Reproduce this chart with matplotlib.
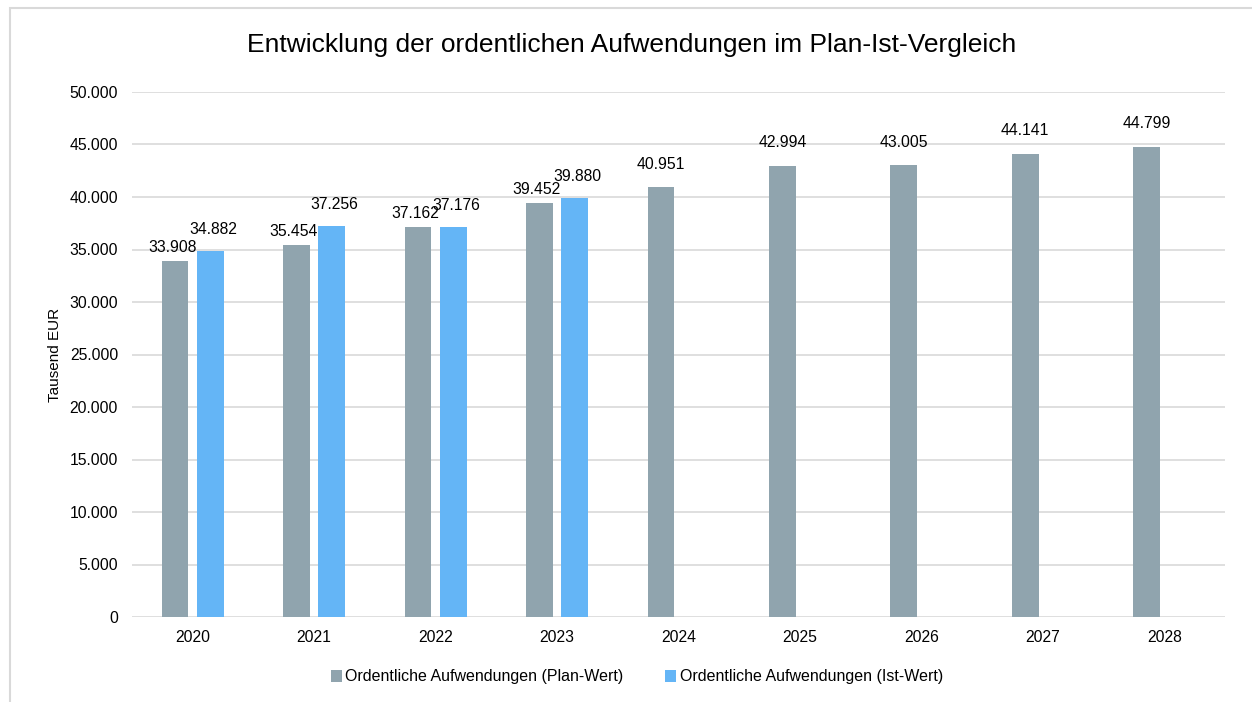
import numpy as np
import matplotlib.pyplot as plt
from matplotlib.patches import Rectangle
from matplotlib.ticker import FuncFormatter

plt.rcParams["font.family"] = ["Liberation Sans", "DejaVu Sans"]

# ---------- data ----------
years = ["2020", "2021", "2022", "2023", "2024", "2025", "2026", "2027", "2028"]
plan = [33908, 35454, 37162, 39452, 40951, 42994, 43005, 44141, 44799]
ist = [34882, 37256, 37176, 39880]

PLAN_COLOR = "#90A4AE"
IST_COLOR = "#64B5F6"
GRID_COLOR = "#D9D9D9"


def de_fmt(v):
    return f"{v:,.0f}".replace(",", ".")


fig = plt.figure(figsize=(12.52, 7.02), dpi=100)

# light outer frame (like the Excel chart border)
fig.patches.append(Rectangle((10 / 1252, -0.05), 1.2, 1 - 8 / 702 + 0.05,
                             transform=fig.transFigure, fill=False,
                             edgecolor=GRID_COLOR, linewidth=1.5))

ax = fig.add_axes([132 / 1252, 1 - 617 / 702, (1225 - 132) / 1252, (617 - 92) / 702])

x = np.arange(len(years))
w = 0.22
off = 0.145

ax.bar(x - off, plan, width=w, color=PLAN_COLOR, label="Ordentliche Aufwendungen (Plan-Wert)", zorder=3)
xi = np.arange(len(ist))
ax.bar(xi + off, ist, width=w, color=IST_COLOR, label="Ordentliche Aufwendungen (Ist-Wert)", zorder=3)

# value labels
for i, v in enumerate(plan):
    gap = 4 if i < len(ist) else 11
    ax.annotate(de_fmt(v), (x[i] - off, v), textcoords="offset points",
                xytext=(-2 if i < len(ist) else 0, gap), ha="center", va="bottom", fontsize=11.3)
for i, v in enumerate(ist):
    ax.annotate(de_fmt(v), (xi[i] + off, v), textcoords="offset points",
                xytext=(2, 10), ha="center", va="bottom", fontsize=11.3)

ax.set_xlim(-0.5, len(years) - 0.5)
ax.set_ylim(0, 50000)
ax.set_yticks(np.arange(0, 50001, 5000))
ax.yaxis.set_major_formatter(FuncFormatter(lambda v, p: de_fmt(v)))
ax.set_xticks(x)
ax.set_xticklabels(years)
ax.tick_params(axis="both", length=0, labelsize=11.3)
ax.tick_params(axis="y", pad=10)
ax.tick_params(axis="x", pad=9)

ax.yaxis.grid(True, color=GRID_COLOR, linewidth=1.2, zorder=0)
ax.set_axisbelow(True)
for s in ax.spines.values():
    s.set_visible(False)

fig.text(55 / 1252, 1 - 355 / 702, "Tausend EUR", rotation=90, ha="center", va="center", fontsize=11)
fig.text(632 / 1252, 1 - 45 / 702, "Entwicklung der ordentlichen Aufwendungen im Plan-Ist-Vergleich",
         ha="center", va="center", fontsize=19)

fig.legend(loc="center", bbox_to_anchor=(637 / 1252, 1 - 677 / 702), ncol=2, frameon=False,
           fontsize=11.5, handlelength=0.7, handleheight=0.7, handletextpad=0.2, columnspacing=2.6)

fig.savefig("out.png", dpi=100)
